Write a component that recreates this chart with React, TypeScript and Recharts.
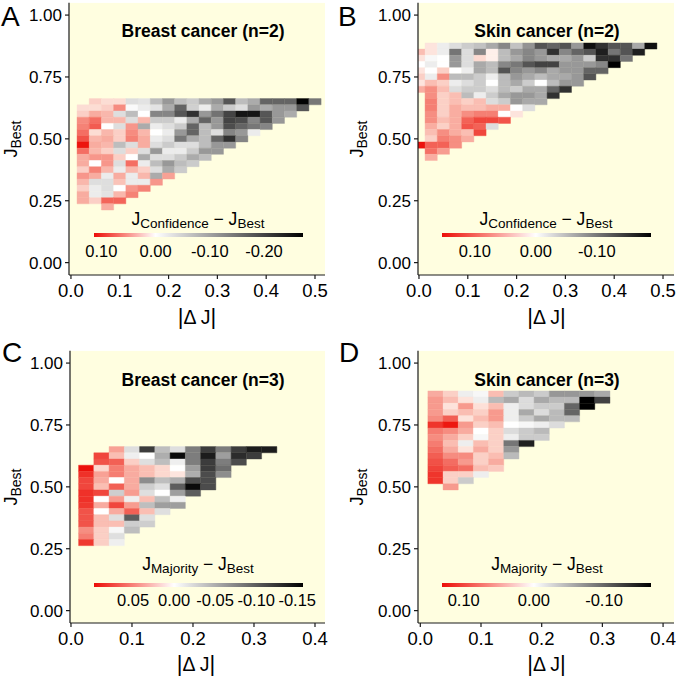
import React from "react";
import { ScatterChart, Scatter, XAxis, YAxis, ReferenceArea } from "recharts";

const FONT = "'Liberation Sans', Arial, Helvetica, sans-serif";
const BIN = 0.025;
const PANEL_BG = "#fffee0";
const RED = [236, 14, 8];

// ---- A: breast cancer (n=2), J_Confidence - J_Best ----
const aRowY = [0.65, 0.625, 0.6, 0.575, 0.55, 0.525, 0.5, 0.475, 0.45, 0.425, 0.4, 0.375, 0.35, 0.325, 0.3, 0.275, 0.25, 0.225];
const aRowStart = [0.05, 0.025, 0.025, 0.025, 0.025, 0.025, 0.025, 0.025, 0.025, 0.025, 0.025, 0.025, 0.025, 0.025, 0.025, 0.025, 0.025, 0.075];
const aValues = [
  [0.015, 0.01, 0.01, -0.035, -0.03, -0.07, -0.11, -0.07, -0.055, -0.09, -0.11, -0.18, -0.07, -0.09, -0.165, -0.165, -0.165, -0.27, -0.145],
  [0.01, 0.01, 0.015, 0.045, -0.005, -0.02, -0.03, -0.09, -0.165, -0.05, -0.02, -0.09, -0.055, -0.035, -0.11, -0.09, -0.11, -0.11, -0.18],
  [0.015, 0.03, 0.025, -0.035, -0.07, 0, -0.13, -0.13, -0.18, -0.22, -0.11, -0.15, -0.2, -0.25, -0.25, -0.18, -0.11, -0.09],
  [0.045, 0.06, 0.025, 0.025, -0.035, 0.025, -0.055, -0.055, -0.02, -0.09, -0.165, -0.11, -0.2, -0.19, -0.13, -0.18, -0.11],
  [0.05, 0.07, 0, -0.035, 0.04, -0.09, -0.02, -0.035, -0.055, -0.165, -0.07, -0.11, -0.19, -0.165, -0.145, -0.13],
  [0.06, 0.01, 0.025, 0.015, 0.045, 0.025, 0, -0.02, -0.11, -0.165, -0.07, -0.035, -0.13, -0.11, -0.02],
  [0.075, 0.025, 0.03, 0.015, 0.05, 0.03, -0.02, -0.035, -0.145, -0.09, -0.07, -0.165, -0.22, -0.13],
  [0.11, 0.03, 0.025, -0.07, -0.035, 0.03, -0.035, -0.055, -0.035, -0.035, -0.07, -0.11, -0.11],
  [0.06, 0.025, 0.015, -0.035, 0.015, -0.035, -0.11, -0.02, -0.02, -0.055, -0.11, -0.11],
  [0.03, 0.04, 0.04, 0.015, 0, -0.09, -0.035, -0.035, -0.055, -0.09, -0.07],
  [0.03, 0, 0.04, -0.035, 0.06, -0.02, -0.07, -0.11, -0.07, -0.055],
  [0.015, 0.05, 0.025, -0.02, 0.025, 0.015, -0.035, -0.09, -0.055],
  [0.04, 0.03, -0.02, 0.03, -0.02, 0.025, -0.09, 0.035],
  [0.025, -0.035, -0.035, 0.02, -0.02, -0.02, 0.04],
  [0.015, -0.02, -0.035, 0, 0.04, 0.05],
  [0.03, -0.02, -0.03, 0.025, 0.05],
  [0.03, 0.015, 0.065, 0.065],
  [0.03],
];

// ---- B: skin cancer (n=2), J_Confidence - J_Best ----
const bRowY = [0.875, 0.85, 0.825, 0.8, 0.775, 0.75, 0.725, 0.7, 0.675, 0.65, 0.625, 0.6, 0.575, 0.55, 0.525, 0.5, 0.475, 0.45, 0.425];
const bRowStart = [0.025, 0, 0, 0, 0, 0, 0, 0, 0.025, 0.025, 0.025, 0.025, 0.025, 0.025, 0.025, 0.025, 0, 0.025, 0.025];
const bValues = [
  [0.01, -0.013, -0.025, -0.038, -0.045, -0.064, -0.089, -0.045, -0.08, -0.127, -0.115, -0.127, -0.076, -0.178, -0.153, -0.127, -0.127, -0.064, -0.178],
  [0.03, 0.01, -0.013, -0.102, -0.025, -0.09, 0.005, -0.05, -0.076, -0.09, -0.076, -0.153, -0.09, -0.115, -0.127, -0.166, -0.102, -0.127, -0.166],
  [0.01, -0.005, 0, -0.076, -0.025, 0.015, 0.005, -0.05, -0.064, -0.09, -0.076, -0.064, -0.064, -0.076, -0.038, -0.153, -0.153, -0.102],
  [0, -0.013, 0, -0.076, -0.025, -0.064, -0.05, -0.089, -0.1, -0.127, -0.14, -0.14, -0.076, -0.076, -0.076, -0.089, -0.191],
  [0.01, 0, 0.02, 0, -0.013, -0.064, -0.05, -0.127, -0.09, -0.076, -0.089, -0.064, -0.076, -0.076, -0.115, -0.115],
  [0.02, -0.013, 0.06, -0.05, -0.05, -0.038, -0.013, -0.05, -0.076, -0.064, -0.05, -0.064, -0.064, -0.076, -0.127],
  [0.01, 0.03, 0.02, -0.013, -0.025, -0.038, 0, -0.05, -0.064, -0.038, 0, -0.05, -0.076, -0.076],
  [0.04, 0.06, 0.03, -0.025, -0.038, -0.038, -0.025, -0.05, -0.038, -0.064, -0.064, -0.115, -0.153],
  [0.06, 0.02, 0.03, -0.05, -0.013, -0.038, -0.064, -0.076, -0.076, -0.064, -0.153],
  [0.07, 0.02, 0.03, 0.02, 0.03, -0.025, -0.038, -0.076, -0.064, -0.064],
  [0.07, 0.02, 0.04, 0.03, 0.03, 0.04, 0.04, 0, -0.025],
  [0.06, 0.02, 0.04, 0.06, 0.07, 0.07, 0, 0.01],
  [0.06, 0.03, 0.04, 0.09, 0.11, 0.11, 0.1],
  [0.04, 0.02, 0.04, 0.1, 0.09, -0.025],
  [0.03, 0.06, 0.04, 0.03, 0.11],
  [0.02, 0.07, 0.06, 0.04],
  [0.15, 0.09, 0.09, 0.06],
  [0.08, 0.05],
  [0.04],
];

// ---- C: breast cancer (n=3), J_Majority - J_Best ----
const cRowY = [0.65, 0.625, 0.6, 0.575, 0.55, 0.525, 0.5, 0.475, 0.45, 0.425, 0.4, 0.375, 0.35, 0.325, 0.3, 0.275];
const cRowStart = [0.075, 0.05, 0.05, 0.025, 0.025, 0.025, 0.025, 0.025, 0.025, 0.025, 0.025, 0.025, 0.025, 0.025, 0.025, 0.025];
const cValues = [
  [0.03, -0.02, -0.12, -0.04, -0.02, -0.08, -0.12, -0.08, -0.12, -0.14, -0.14],
  [0.07, 0.019, -0.01, 0, -0.05, -0.15, -0.08, -0.14, -0.06, -0.13, -0.12],
  [0.064, 0.058, 0.013, -0.02, -0.04, -0.01, -0.08, -0.12, -0.08, -0.11],
  [0.096, 0.01, 0.045, 0.026, 0.019, 0.01, 0, -0.06, -0.12, -0.09],
  [0.08, 0.03, 0.045, 0.026, 0.019, 0.01, 0.006, -0.05, -0.11, -0.07],
  [0.07, 0.026, 0, 0.026, -0.07, -0.04, -0.05, -0.11, -0.11],
  [0.07, 0.019, 0.058, 0.026, -0.03, -0.02, -0.1, -0.15, -0.11],
  [0.08, 0.07, -0.03, 0.032, -0.02, 0, -0.06, -0.1],
  [0.08, 0, 0.032, -0.01, 0.019, -0.04, -0.01],
  [0.077, 0.026, 0.07, 0.032, -0.04, -0.06, -0.06],
  [0.064, 0, 0.026, 0.058, 0.019, -0.02],
  [0.064, 0.019, -0.02, -0.1, -0.02],
  [0.064, 0.019, 0.019, -0.03, -0.03],
  [0.038, 0.013, -0.005, -0.04],
  [0.045, 0.013, -0.02],
  [0.077, 0.013, -0.01],
];

// ---- D: skin cancer (n=3), J_Majority - J_Best ----
const dRowY = [0.875, 0.85, 0.825, 0.8, 0.775, 0.75, 0.725, 0.7, 0.675, 0.65, 0.625, 0.6, 0.575, 0.55, 0.525, 0.5];
const dRowStart = [0.025, 0.025, 0.025, 0.025, 0.025, 0.025, 0.025, 0.025, 0.025, 0.025, 0.025, 0.025, 0.025, 0.025, 0.025, 0.05];
const dValues = [
  [0.035, 0.017, -0.011, -0.005, 0.026, -0.034, -0.045, -0.034, -0.068, -0.068, -0.068, -0.056],
  [0.044, 0.026, 0.009, -0.011, -0.045, -0.056, -0.023, -0.056, -0.045, -0.045, -0.169, -0.124],
  [0.044, 0.009, 0.044, 0.01, 0.026, -0.011, -0.023, -0.034, -0.034, -0.101, -0.169],
  [0.044, 0.017, 0.026, 0.017, 0.044, -0.011, -0.056, -0.023, -0.045, -0.101],
  [0.052, 0.079, 0.009, 0.026, 0.044, -0.011, -0.034, -0.056, -0.045, -0.045],
  [0.105, 0.125, 0.044, 0.017, 0.026, 0, -0.005, -0.011, -0.023],
  [0.061, 0.052, 0.035, 0, 0.017, -0.023, -0.034, -0.045],
  [0.052, 0.035, 0.017, -0.005, 0.017, -0.011, -0.034, -0.034],
  [0.061, 0.026, -0.011, 0.026, 0.017, -0.09, -0.146],
  [0.07, 0.035, 0.009, 0.035, 0.017, -0.068],
  [0.079, 0.052, 0.052, 0.017, 0.026, -0.045],
  [0.087, 0.07, 0.044, 0.017, 0.035],
  [0.096, 0.079, 0.07, 0.026, 0.02],
  [0.105, 0.017, 0.017, -0.011],
  [0.105, 0.017, -0.034],
  [0.044],
];

// axis ticks and legend ticks
const yTicks = [0, 0.25, 0.5, 0.75, 1];
const xTicksWide = [0, 0.1, 0.2, 0.3, 0.4, 0.5];
const xTicksNarrow = [0, 0.1, 0.2, 0.3, 0.4];
const legendTicksA = [0.1, 0, -0.1, -0.2];
const legendTicksB = [0.1, 0, -0.1];
const legendTicksC = [0.05, 0, -0.05, -0.1, -0.15];
const legendTicksD = [0.1, 0, -0.1];

function buildCells(rowY: number[], rowStart: number[], values: number[][]) {
  const out: { x: number; y: number; v: number }[] = [];
  rowY.forEach((y, i) => {
    values[i].forEach((v, j) => {
      out.push({ x: +(rowStart[i] + j * BIN).toFixed(4), y, v });
    });
  });
  return out;
}

function mix(a: number, b: number, t: number) {
  return Math.round(a + (b - a) * t);
}

// white -> red for gains, white -> black for losses
function cellColor(v: number, vmax: number, vmin: number) {
  if (v >= 0) {
    const t = Math.pow(Math.min(v / vmax, 1), 0.8);
    return `rgb(${mix(255, RED[0], t)},${mix(255, RED[1], t)},${mix(255, RED[2], Math.pow(t, 0.9))})`;
  }
  const t = Math.min(v / vmin, 1);
  const g = mix(255, 0, t);
  return `rgb(${g},${g},${g})`;
}

const panels = [
  {
    id: "A", left: 0, top: 0, yAxisWidth: 69,
    margin: { top: 2.7, right: 13, bottom: 34, left: 0 },
    xDomain: [-0.004, 0.5205], xTicks: xTicksWide,
    cells: buildCells(aRowY, aRowStart, aValues), vmax: 0.1136, vmin: -0.272,
  },
  {
    id: "B", left: 339, top: 0, yAxisWidth: 79,
    margin: { top: 2.7, right: 3, bottom: 34, left: 0 },
    xDomain: [-0.002, 0.5225], xTicks: xTicksWide,
    cells: buildCells(bRowY, bRowStart, bValues), vmax: 0.154, vmin: -0.189,
  },
  {
    id: "C", left: 0, top: 339, yAxisWidth: 70,
    margin: { top: 11.7, right: 13, bottom: 25, left: 0 },
    xDomain: [-0.0016, 0.4164], xTicks: xTicksNarrow,
    cells: buildCells(cRowY, cRowStart, cValues), vmax: 0.0976, vmin: -0.157,
  },
  {
    id: "D", left: 339, top: 339, yAxisWidth: 79,
    margin: { top: 11.7, right: 3, bottom: 25, left: 0 },
    xDomain: [-0.0038, 0.418], xTicks: xTicksNarrow,
    cells: buildCells(dRowY, dRowStart, dValues), vmax: 0.131, vmin: -0.167,
  },
];

const legends = [
  { id: "A", x: 94, y: 233, vmax: 0.1136, vmin: -0.272, ticks: legendTicksA, labelY: 256.7, titleX: 198, titleY: 225, sub: "Confidence" },
  { id: "B", x: 442, y: 233, vmax: 0.154, vmin: -0.189, ticks: legendTicksB, labelY: 256.7, titleX: 546, titleY: 225, sub: "Confidence" },
  { id: "C", x: 94, y: 583, vmax: 0.0976, vmin: -0.157, ticks: legendTicksC, labelY: 606.3, titleX: 198, titleY: 570, sub: "Majority" },
  { id: "D", x: 442, y: 583, vmax: 0.131, vmin: -0.167, ticks: legendTicksD, labelY: 606.3, titleX: 547, titleY: 570, sub: "Majority" },
];
const BAR_W = 209;
const BAR_H = 4;

const titles = [
  { text: "Breast cancer (n=2)", x: 203, y: 36.7 },
  { text: "Skin cancer (n=2)", x: 547, y: 36.7 },
  { text: "Breast cancer (n=3)", x: 203, y: 386.3 },
  { text: "Skin cancer (n=3)", x: 547, y: 386.3 },
];
const letters = [
  { text: "A", x: 1, y: 26 },
  { text: "B", x: 338, y: 26 },
  { text: "C", x: 2, y: 362 },
  { text: "D", x: 339, y: 362 },
];
const yTitles = [
  { x: 17, y: 139 },
  { x: 363, y: 139 },
  { x: 17, y: 487 },
  { x: 363, y: 487 },
];
const xTitles = [
  { x: 197, y: 324 },
  { x: 546.5, y: 324 },
  { x: 196, y: 670.5 },
  { x: 546.5, y: 670.5 },
];

function Panel({ p }: { p: (typeof panels)[number] }) {
  const axisStroke = { stroke: "#1a1a1a", strokeWidth: 1.2 };
  return (
    <div style={{ position: "absolute", left: p.left, top: p.top }}>
      <ScatterChart width={338} height={339} margin={p.margin}>
        <XAxis
          type="number"
          dataKey="x"
          domain={p.xDomain}
          ticks={p.xTicks}
          allowDataOverflow
          height={30}
          tickSize={4}
          tickMargin={5}
          axisLine={axisStroke}
          tickLine={axisStroke}
          tick={{ fill: "#000", fontSize: 18.5, fontFamily: FONT }}
          tickFormatter={(v: number) => v.toFixed(1)}
        />
        <YAxis
          type="number"
          dataKey="y"
          domain={[-0.05, 1.05]}
          ticks={yTicks}
          allowDataOverflow
          width={p.yAxisWidth}
          tickSize={4}
          tickMargin={3}
          axisLine={axisStroke}
          tickLine={axisStroke}
          tick={{ fill: "#000", fontSize: 17, fontFamily: FONT }}
          tickFormatter={(v: number) => v.toFixed(2)}
        />
        <ReferenceArea
          x1={p.xDomain[0]}
          x2={p.xDomain[1]}
          y1={-0.05}
          y2={1.05}
          fill={PANEL_BG}
          fillOpacity={1}
          stroke="none"
          ifOverflow="hidden"
        />
        {p.cells.map((c, i) => {
          const col = cellColor(c.v, p.vmax, p.vmin);
          return (
            <ReferenceArea
              key={i}
              x1={c.x - BIN / 2}
              x2={c.x + BIN / 2}
              y1={c.y - BIN / 2}
              y2={c.y + BIN / 2}
              fill={col}
              fillOpacity={1}
              stroke={col}
              strokeWidth={0.4}
              ifOverflow="hidden"
            />
          );
        })}
        <Scatter data={p.cells} isAnimationActive={false} shape={() => <g />} />
      </ScatterChart>
    </div>
  );
}

export default function App() {
  return (
    <div style={{ position: "absolute", left: 0, top: 0, width: 677, height: 678, background: "#fff", fontFamily: FONT }}>
      {panels.map((p) => (
        <Panel key={p.id} p={p} />
      ))}
      <svg width={677} height={678} style={{ position: "absolute", left: 0, top: 0, pointerEvents: "none" }} fontFamily={FONT}>
        <defs>
          {legends.map((l) => {
            const mid = (l.vmax / (l.vmax - l.vmin)) * 100;
            return (
              <linearGradient key={l.id} id={`grad${l.id}`} x1="0" y1="0" x2="1" y2="0">
                <stop offset="0%" stopColor={`rgb(${RED.join(",")})`} />
                <stop offset={`${mid * 0.5}%`} stopColor="#f8857c" />
                <stop offset={`${mid}%`} stopColor="#ffffff" />
                <stop offset="100%" stopColor="#000000" />
              </linearGradient>
            );
          })}
        </defs>
        {letters.map((t) => (
          <text key={t.text} x={t.x} y={t.y} fontSize={28} fill="#000">
            {t.text}
          </text>
        ))}
        {titles.map((t) => (
          <text key={t.text + t.y} x={t.x} y={t.y} fontSize={17.5} fontWeight="bold" textAnchor="middle" fill="#000">
            {t.text}
          </text>
        ))}
        {legends.map((l) => (
          <g key={l.id}>
            <text x={l.titleX} y={l.titleY} fontSize={17.5} textAnchor="middle" fill="#000">
              J<tspan fontSize={13.5} dy={3}>{l.sub}</tspan>
              <tspan dy={-3}>{" \u2212 J"}</tspan>
              <tspan fontSize={13.5} dy={3}>Best</tspan>
            </text>
            <rect x={l.x} y={l.y} width={BAR_W} height={BAR_H} fill={`url(#grad${l.id})`} />
            {l.ticks.map((v) => (
              <text
                key={v}
                x={l.x + ((l.vmax - v) / (l.vmax - l.vmin)) * BAR_W}
                y={l.labelY}
                fontSize={16.5}
                textAnchor="middle"
                fill="#000"
              >
                {v.toFixed(2)}
              </text>
            ))}
          </g>
        ))}
        {yTitles.map((t, i) => (
          <text key={i} transform={`translate(${t.x},${t.y}) rotate(-90)`} fontSize={18} textAnchor="middle" fill="#000">
            J<tspan fontSize={14} dy={4}>Best</tspan>
          </text>
        ))}
        {xTitles.map((t, i) => (
          <text key={i} x={t.x} y={t.y} fontSize={19.5} textAnchor="middle" fill="#000">
            <tspan fontSize={22}>|</tspan>
            {"\u0394 J"}
            <tspan fontSize={22}>|</tspan>
          </text>
        ))}
      </svg>
    </div>
  );
}
